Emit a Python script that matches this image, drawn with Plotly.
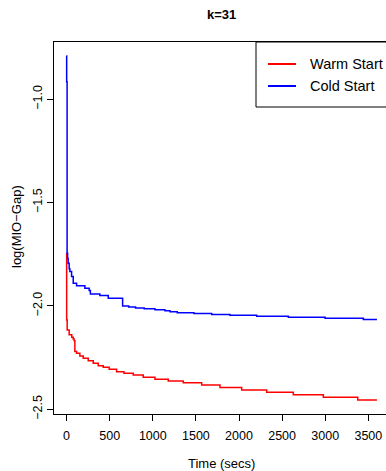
import plotly.graph_objects as go

# Optimality gap traces over time (step functions), k=31
warm_name = "Warm Start"
warm_time = [0, 1, 7, 30, 60, 77, 88, 96, 116, 154, 193, 251, 309, 367, 425, 494,
             580, 665, 773, 889, 1025, 1179, 1353, 1567, 1779, 2031, 2321, 2630,
             2978, 3377, 3600]
warm_gap = [-1.745, -2.068, -2.116, -2.140, -2.152, -2.160, -2.168, -2.221, -2.229,
            -2.242, -2.253, -2.265, -2.277, -2.289, -2.297, -2.306, -2.318, -2.326,
            -2.334, -2.345, -2.355, -2.363, -2.372, -2.383, -2.395, -2.407, -2.418,
            -2.430, -2.442, -2.455, -2.455]

cold_name = "Cold Start"
cold_time = [0, 1, 6, 12, 18, 30, 38, 58, 77, 116, 212, 262, 276, 386, 483, 650,
             720, 800, 900, 1025, 1141, 1200, 1284, 1477, 1683, 1895, 2205, 2572,
             2998, 3442, 3600]
cold_gap = [-0.789, -0.915, -1.745, -1.770, -1.794, -1.820, -1.834, -1.858, -1.890,
            -1.903, -1.914, -1.925, -1.942, -1.950, -1.963, -2.000, -2.005, -2.010,
            -2.014, -2.019, -2.024, -2.028, -2.033, -2.037, -2.042, -2.045, -2.050,
            -2.055, -2.060, -2.066, -2.066]

x_ticks = [0, 500, 1000, 1500, 2000, 2500, 3000, 3500]
y_ticks = [-2.5, -2.0, -1.5, -1.0]

RED = "#FF0000"
BLUE = "#0000FF"
FONT = "Liberation Sans, Arial, Helvetica, sans-serif"

W, H = 386, 471
L, R, T, B = 54, 0, 42, 57
pw, ph = W - L - R, H - T - B


def px_x(p):
    return (p - L) / pw


def px_y(p):
    return (H - B - p) / ph


fig = go.Figure()
fig.add_trace(go.Scatter(x=warm_time, y=warm_gap, mode="lines", name=warm_name,
                         line=dict(color=RED, width=1.5, shape="hv"), showlegend=False))
fig.add_trace(go.Scatter(x=cold_time, y=cold_gap, mode="lines", name=cold_name,
                         line=dict(color=BLUE, width=1.5, shape="hv"), showlegend=False))

# Legend box with line keys
fig.add_shape(type="rect", xref="paper", yref="paper",
              x0=px_x(256), x1=px_x(395), y0=px_y(107), y1=px_y(42),
              line=dict(color="black", width=1), fillcolor="white", layer="above")
for name, color, yy in [(warm_name, RED, 64), (cold_name, BLUE, 86)]:
    fig.add_shape(type="line", xref="paper", yref="paper",
                  x0=px_x(268), x1=px_x(296), y0=px_y(yy), y1=px_y(yy),
                  line=dict(color=color, width=2), layer="above")
    fig.add_annotation(text=name, xref="paper", yref="paper", x=px_x(308), y=px_y(yy),
                       xanchor="left", yanchor="middle", showarrow=False,
                       font=dict(family=FONT, size=14.5, color="black"))

# Title and axis titles
fig.add_annotation(text="<b>k=31</b>", xref="paper", yref="paper",
                   x=px_x(221.5), y=px_y(14), xanchor="center", yanchor="middle",
                   showarrow=False, font=dict(family=FONT, size=13, color="black"))
fig.add_annotation(text="Time (secs)", xref="paper", yref="paper",
                   x=px_x(221.5), y=px_y(463), xanchor="center", yanchor="middle",
                   showarrow=False, font=dict(family=FONT, size=13, color="black"))
fig.add_annotation(text="log(MIO\u2212Gap)", xref="paper", yref="paper",
                   x=px_x(16), y=px_y(227), xanchor="center", yanchor="middle",
                   textangle=-90, showarrow=False,
                   font=dict(family=FONT, size=13, color="black"))

fig.update_layout(
    width=W, height=H,
    margin=dict(l=L, r=R, t=T, b=B, pad=0),
    paper_bgcolor="white", plot_bgcolor="white",
    font=dict(family=FONT, size=12, color="black"),
)
fig.update_xaxes(range=[-146, 3705], tickvals=x_ticks, showgrid=False, zeroline=False,
                 showline=True, mirror=True, linecolor="black", linewidth=1,
                 ticks="outside", ticklen=6, tickcolor="black", tickwidth=1,
                 ticklabelstandoff=4,
                 tickfont=dict(family=FONT, size=12.5, color="black"))
fig.update_yaxes(range=[-2.523, -0.723], tickvals=y_ticks, tickformat=".1f",
                 showgrid=False, zeroline=False, showline=True, mirror=False,
                 linecolor="black", linewidth=1, ticks="outside", ticklen=6,
                 tickcolor="black", tickwidth=1, tickangle=-90,
                 tickfont=dict(family=FONT, size=12.5, color="black"))

fig.write_html("out.html")
